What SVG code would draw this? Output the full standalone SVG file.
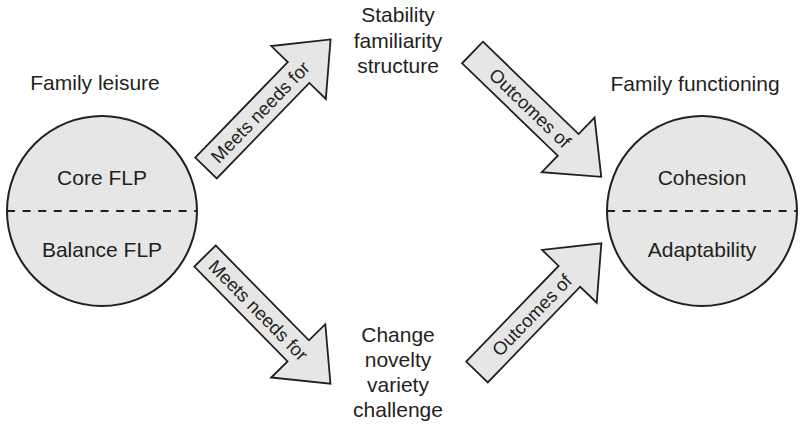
<svg xmlns="http://www.w3.org/2000/svg" xmlns:xlink="http://www.w3.org/1999/xlink" width="800" height="425" viewBox="0 0 800 425">
  <style>
    .lbl { font-family: "Liberation Sans", Arial, Helvetica, sans-serif; font-size: 21px; fill: #231f20; text-anchor: middle; }
    .alb { font-family: "Liberation Sans", Arial, Helvetica, sans-serif; font-size: 18.5px; fill: #231f20; text-anchor: middle; }
    .disc { fill: #e6e6e6; stroke: #231f20; stroke-width: 2; }
    .split { fill: none; stroke: #231f20; stroke-width: 2; stroke-dasharray: 8 7.6; }
    .arrow { fill: #e6e6e6; stroke: #231f20; stroke-width: 1.8; stroke-linejoin: miter; }
  </style>
  <defs>
    <!-- block arrow pointing along +x, tail centred on the origin -->
    <path id="block-arrow" d="M0,-15 L133,-15 L133,-38 L179,0 L133,38 L133,15 L0,15 Z"/>
  </defs>
  <rect width="800" height="425" fill="#ffffff"/>

  <g id="family-leisure">
    <text class="lbl" x="95" y="90">Family leisure</text>
    <circle class="disc" cx="102" cy="211" r="95"/>
    <line class="split" x1="7" y1="211" x2="197" y2="211"/>
    <text class="lbl" x="102" y="185">Core FLP</text>
    <text class="lbl" x="102" y="257">Balance FLP</text>
  </g>

  <g id="family-functioning">
    <text class="lbl" x="695" y="91">Family functioning</text>
    <circle class="disc" cx="702" cy="211" r="95"/>
    <line class="split" x1="607" y1="211" x2="797" y2="211"/>
    <text class="lbl" x="702" y="185">Cohesion</text>
    <text class="lbl" x="702" y="257">Adaptability</text>
  </g>

  <g id="stability">
    <text class="lbl" x="398" y="22">Stability</text>
    <text class="lbl" x="398" y="48">familiarity</text>
    <text class="lbl" x="398" y="73">structure</text>
  </g>

  <g id="change">
    <text class="lbl" x="398" y="342">Change</text>
    <text class="lbl" x="398" y="367">novelty</text>
    <text class="lbl" x="398" y="392">variety</text>
    <text class="lbl" x="398" y="417">challenge</text>
  </g>

  <g id="connectors">
    <g transform="translate(206,168) rotate(-45.9)">
      <use xlink:href="#block-arrow" class="arrow"/>
      <text class="alb" x="78" y="6.5">Meets needs for</text>
    </g>
    <g transform="translate(205,256) rotate(45.5)">
      <use xlink:href="#block-arrow" class="arrow"/>
      <text class="alb" x="76" y="6.5">Meets needs for</text>
    </g>
    <g transform="translate(472.5,52.5) rotate(44)">
      <use xlink:href="#block-arrow" class="arrow"/>
      <text class="alb" x="80" y="6.5">Outcomes of</text>
    </g>
    <g transform="translate(477,372) rotate(-46)">
      <use xlink:href="#block-arrow" class="arrow"/>
      <text class="alb" x="79" y="6.5">Outcomes of</text>
    </g>
  </g>
</svg>
